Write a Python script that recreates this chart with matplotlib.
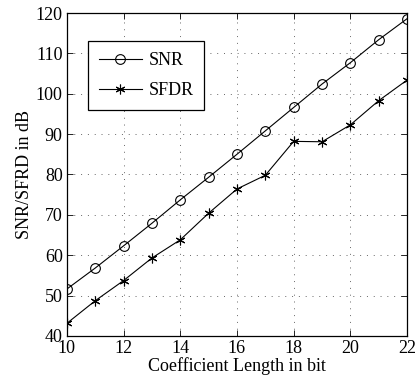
import matplotlib
matplotlib.use('Agg')
import matplotlib.pyplot as plt

# Data
coef_bits = [10, 11, 12, 13, 14, 15, 16, 17, 18, 19, 20, 21, 22]
snr = [51.6, 56.8, 62.3, 67.9, 73.7, 79.3, 85.0, 90.8, 96.6, 102.4, 107.7, 113.4, 118.6]
sfdr = [43.1, 48.7, 53.7, 59.3, 63.8, 70.4, 76.4, 79.8, 88.2, 88.1, 92.3, 98.3, 103.4]
x_ticks = [10, 12, 14, 16, 18, 20, 22]
y_ticks = [40, 50, 60, 70, 80, 90, 100, 110, 120]

plt.rcParams['font.family'] = ['Liberation Serif', 'DejaVu Serif']

fig = plt.figure(figsize=(4.15, 3.83), dpi=100)
ax = fig.add_axes([0.161, 0.123, 0.820, 0.843])

ax.plot(coef_bits, snr, color='black', linewidth=0.8, marker='o', markersize=7,
        markerfacecolor='none', markeredgewidth=0.8, label='SNR')
ax.plot(coef_bits, sfdr, color='black', linewidth=0.8, marker=(6, 2, 0), markersize=7,
        markeredgewidth=0.8, label='SFDR')

ax.set_xlim(10, 22)
ax.set_ylim(40, 120)
ax.set_xticks(x_ticks)
ax.set_yticks(y_ticks)
ax.tick_params(direction='in', top=True, right=True, labelsize=13, length=4,
               width=0.6, pad=3)
ax.grid(True, linestyle=(0, (1, 6)), color='black', linewidth=0.7, alpha=0.6)
for s in ax.spines.values():
    s.set_linewidth(0.9)

ax.set_xlabel('Coefficient Length in bit', fontsize=13, labelpad=0)
ax.set_ylabel('SNR/SFRD in dB', fontsize=13, labelpad=2)

# legend box sits inside the upper-left corner of the axes
leg = ax.legend(loc='upper left', bbox_to_anchor=(0.062, 0.913), fontsize=13,
                fancybox=False, framealpha=1, edgecolor='black',
                handlelength=2.4, labelspacing=0.75, borderpad=0.6,
                handletextpad=0.35, borderaxespad=0)
leg.get_frame().set_linewidth(0.9)

fig.savefig('out.png', dpi=100)
